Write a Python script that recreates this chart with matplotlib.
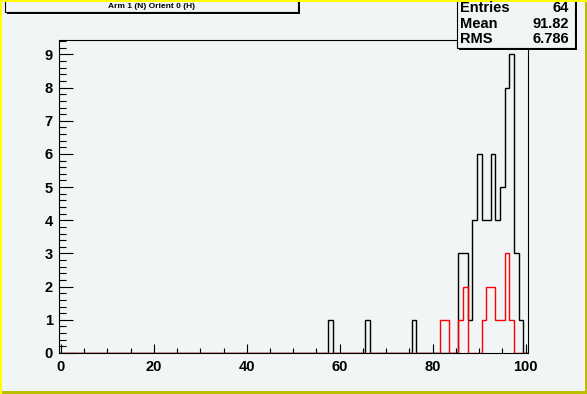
import numpy as np
import matplotlib.pyplot as plt
from matplotlib.patches import Rectangle
from matplotlib.ticker import MultipleLocator

# histogram contents (bin centre -> entries), bins of width 1 from -0.5 to 100.5
black_bins = [58, 66, 76, 86, 87, 88, 89, 90, 91, 92, 93, 94, 95, 96, 97, 98, 99]
black_counts = [1, 1, 1, 3, 3, 1, 4, 6, 4, 4, 6, 4, 5, 8, 9, 3, 1]
red_bins = [82, 83, 86, 87, 91, 92, 93, 94, 95, 96, 97]
red_counts = [1, 1, 1, 2, 1, 2, 2, 1, 1, 3, 1]

stats_names = ['Entries', 'Mean', 'RMS']
stats_values = ['64', '91.82', '6.786']
title = 'Arm 1 (N) Orient 0 (H)'

W, H = 587, 394
bg = '#f1f5f6'
font = 'Liberation Sans'

edges = np.arange(-0.5, 101.0, 1.0)
h_black = np.zeros(len(edges) - 1)
h_black[np.array(black_bins)] = black_counts
h_red = np.zeros(len(edges) - 1)
h_red[np.array(red_bins)] = red_counts


def fx(px):
    return px / W


def fy(py):
    return 1 - py / H


fig = plt.figure(figsize=(W / 100, H / 100), dpi=100, facecolor=bg)

# frame in pixels: left 58.5, right 528, top 39.5, bottom 353
ax = fig.add_axes([fx(58.5), fy(353), fx(528 - 58.5), (353 - 39.5) / H])
ax.set_facecolor(bg)
ax.stairs(h_black, edges, color='black', lw=1.0)
ax.stairs(h_red, edges, color='red', lw=1.0)
ax.set_xlim(-0.5, 100.5)
ax.set_ylim(0, 9.45)

ax.xaxis.set_major_locator(MultipleLocator(20))
ax.xaxis.set_minor_locator(MultipleLocator(5))
ax.yaxis.set_major_locator(MultipleLocator(1))
ax.yaxis.set_minor_locator(MultipleLocator(0.2))
ax.tick_params(axis='both', which='both', direction='in', top=False, right=False, width=0.8)
ax.tick_params(axis='x', which='major', length=6.8, pad=5)
ax.tick_params(axis='x', which='minor', length=3.4)
ax.tick_params(axis='y', which='major', length=10, pad=4)
ax.tick_params(axis='y', which='minor', length=5)
for lab in ax.get_xticklabels() + ax.get_yticklabels():
    lab.set_fontfamily(font)
    lab.set_fontweight('bold')
    lab.set_fontsize(10.5)
for s in ax.spines.values():
    s.set_linewidth(0.8)


def box(x0, y0, x1, y1):
    sh = Rectangle((fx(x0 + 2), fy(y1 + 2)), fx(x1 - x0), (y1 - y0) / H,
                   transform=fig.transFigure, facecolor='black', edgecolor='none')
    bx = Rectangle((fx(x0), fy(y1)), fx(x1 - x0), (y1 - y0) / H,
                   transform=fig.transFigure, facecolor=bg, edgecolor='black', lw=0.8)
    fig.add_artist(sh)
    fig.add_artist(bx)


# title box
box(5, -3, 298, 12)
fig.text(fx(152), fy(6), title, ha='center', va='center', fontsize=6,
         fontweight='bold', fontfamily=font)

# stats box
box(457, -3, 575, 48)
for i, (n, v) in enumerate(zip(stats_names, stats_values)):
    y = 8 + 15.5 * i
    fig.text(fx(460), fy(y), n, ha='left', va='center', fontsize=10.5,
             fontweight='bold', fontfamily=font)
    fig.text(fx(569), fy(y), v, ha='right', va='center', fontsize=10.5,
             fontweight='bold', fontfamily=font)

# canvas border
fig.add_artist(Rectangle((0, 0), fx(2), 1, transform=fig.transFigure, facecolor='#ffff00', edgecolor='none'))
fig.add_artist(Rectangle((0, fy(2)), 1, 2 / H, transform=fig.transFigure, facecolor='#ffff00', edgecolor='none'))
fig.add_artist(Rectangle((fx(585), 0), fx(2), fy(2), transform=fig.transFigure, facecolor='#bdbd00', edgecolor='none'))
fig.add_artist(Rectangle((fx(2), 0), 1, 3 / H, transform=fig.transFigure, facecolor='#bdbd00', edgecolor='none'))

fig.savefig('out.png', dpi=100, facecolor=bg)
